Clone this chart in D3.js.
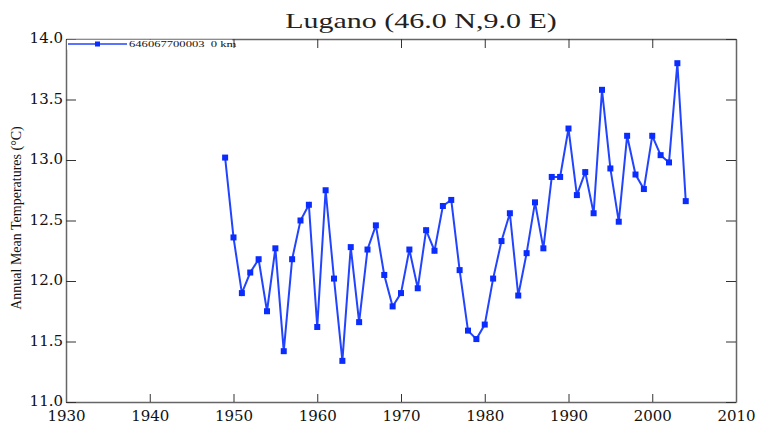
<!DOCTYPE html>
<html>
<head>
<meta charset="utf-8">
<script src="https://cdn.jsdelivr.net/npm/d3@7"></script>
<style>
  body { margin: 0; background: #fff; }
  svg { display: block; }
</style>
</head>
<body>
<svg id="chart" width="758" height="428"></svg>
<script>
const years = [1949, 1950, 1951, 1952, 1953, 1954, 1955, 1956, 1957, 1958,
  1959, 1960, 1961, 1962, 1963, 1964, 1965, 1966, 1967, 1968,
  1969, 1970, 1971, 1972, 1973, 1974, 1975, 1976, 1977, 1978,
  1979, 1980, 1981, 1982, 1983, 1984, 1985, 1986, 1987, 1988,
  1989, 1990, 1991, 1992, 1993, 1994, 1995, 1996, 1997, 1998,
  1999, 2000, 2001, 2002, 2003, 2004];
const temps = [13.02, 12.36, 11.90, 12.07, 12.18, 11.75, 12.27, 11.42, 12.18, 12.50,
  12.63, 11.62, 12.75, 12.02, 11.34, 12.28, 11.66, 12.26, 12.46, 12.05,
  11.79, 11.90, 12.26, 11.94, 12.42, 12.25, 12.62, 12.67, 12.09, 11.59,
  11.52, 11.64, 12.02, 12.33, 12.56, 11.88, 12.23, 12.65, 12.27, 12.86,
  12.86, 13.26, 12.71, 12.90, 12.56, 13.58, 12.93, 12.49, 13.20, 12.88,
  12.76, 13.20, 13.04, 12.98, 13.80, 12.66];
const xTicks = [1930, 1940, 1950, 1960, 1970, 1980, 1990, 2000, 2010];
const yTicks = [11.0, 11.5, 12.0, 12.5, 13.0, 13.5, 14.0];
const title = "Lugano (46.0 N,9.0 E)";
const yLabel = "Annual Mean Temperatures (\u00B0C)";
const seriesName = "646067700003  0 km";

const svg = d3.select("#chart");
const margin = { top: 39, right: 22, bottom: 26, left: 66 },
      width = +svg.attr("width") - margin.left - margin.right,
      height = +svg.attr("height") - margin.top - margin.bottom;

const data = years.map((yr, i) => ({ year: yr, temp: temps[i] }));

const x = d3.scaleLinear().domain([1930, 2010]).range([0, width]);
const y = d3.scaleLinear().domain([11, 14]).range([height, 0]);

const g = svg.append("g").attr("transform", `translate(${margin.left},${margin.top})`);

const tickFont = "'DejaVu Serif', serif";
const frameColor = "#666";

// frame: four axes with ticks pointing inward
const axBottom = g.append("g").attr("transform", `translate(0,${height})`)
  .call(d3.axisBottom(x).tickValues(xTicks).tickFormat(d3.format("d"))
    .tickSizeInner(-8).tickSizeOuter(0).tickPadding(8));
const axTop = g.append("g")
  .call(d3.axisTop(x).tickValues(xTicks).tickFormat("")
    .tickSizeInner(-9).tickSizeOuter(0));
const axLeft = g.append("g")
  .call(d3.axisLeft(y).tickValues(yTicks).tickFormat(d3.format(".1f"))
    .tickSizeInner(-10).tickSizeOuter(0).tickPadding(3));
const axRight = g.append("g").attr("transform", `translate(${width},0)`)
  .call(d3.axisRight(y).tickValues(yTicks).tickFormat("")
    .tickSizeInner(-10).tickSizeOuter(0));

[axBottom, axTop, axLeft, axRight].forEach(a => {
  a.select(".domain").attr("stroke", frameColor).attr("stroke-width", 1.5);
  a.selectAll(".tick line").attr("stroke", "#333").attr("stroke-width", 1);
  a.selectAll("text").attr("font-family", tickFont).attr("font-size", "15px").attr("fill", "#111");
});
axLeft.selectAll("text").attr("dy", "0.25em");

// data line + square markers
const line = d3.line().x(d => x(d.year)).y(d => y(d.temp));
g.append("path")
  .datum(data)
  .attr("fill", "none")
  .attr("stroke", "#2244ff")
  .attr("stroke-width", 2)
  .attr("d", line);

const ms = 6;
g.selectAll("rect.pt")
  .data(data)
  .enter().append("rect")
  .attr("class", "pt")
  .attr("x", d => x(d.year) - ms / 2)
  .attr("y", d => y(d.temp) - ms / 2)
  .attr("width", ms)
  .attr("height", ms)
  .attr("fill", "#0a2cff");

// legend in top-left corner
const lg = g.append("g");
lg.append("rect")
  .attr("x", 1).attr("y", 0.75)
  .attr("width", 165).attr("height", 10)
  .attr("fill", "#fff");
lg.append("line")
  .attr("x1", 2).attr("x2", 61)
  .attr("y1", 5).attr("y2", 5)
  .attr("stroke", "#2244ff").attr("stroke-width", 1.5);
lg.append("rect")
  .attr("x", 29).attr("y", 2.5)
  .attr("width", 5).attr("height", 5)
  .attr("fill", "#0a2cff");
lg.append("text")
  .attr("transform", "translate(63,8) scale(1.4,1)")
  .attr("font-family", "'Liberation Serif', serif")
  .attr("font-size", "9px")
  .attr("fill", "#111")
  .attr("xml:space", "preserve")
  .text(seriesName);

// title
svg.append("text")
  .attr("transform", "translate(421,28) scale(1.5,1)")
  .attr("text-anchor", "middle")
  .attr("font-family", "'Liberation Serif', serif")
  .attr("font-size", "20px")
  .attr("fill", "#222")
  .text(title);

// y axis label
svg.append("text")
  .attr("transform", "translate(21,218) rotate(-90)")
  .attr("text-anchor", "middle")
  .attr("font-family", "'Liberation Serif', serif")
  .attr("font-size", "14px")
  .attr("fill", "#111")
  .text(yLabel);
</script>
</body>
</html>
